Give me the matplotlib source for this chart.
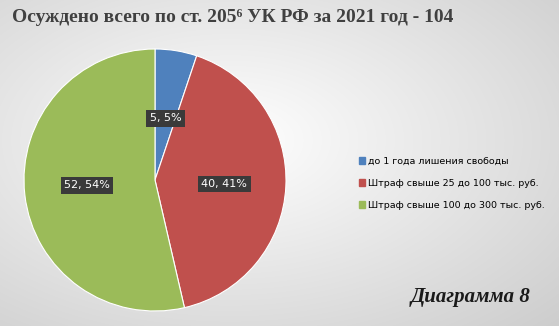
import matplotlib
matplotlib.use('Agg')
import matplotlib.pyplot as plt
import numpy as np

categories = ['до 1 года лишения свободы',
              'Штраф свыше 25 до 100 тыс. руб.',
              'Штраф свыше 100 до 300 тыс. руб.']
counts = [5, 40, 52]
percents = [5, 41, 54]
colors = ['#4F81BD', '#C0504D', '#9BBB59']

W, H = 559, 326
fig = plt.figure(figsize=(W / 100, H / 100), dpi=100)

# фон с градиентом
bg = fig.add_axes([0, 0, 1, 1])
yy, xx = np.mgrid[0:H, 0:W]
d = np.sqrt(((xx - 230) / W) ** 2 + ((yy - 140) / H) ** 2)
shade = np.clip(1.0 - 0.24 * d, 0.76, 1.0)
img = np.dstack([shade, shade, shade])
bg.imshow(img, extent=(0, W, H, 0), aspect='auto')
bg.set_xlim(0, W)
bg.set_ylim(H, 0)
bg.axis('off')

# круговая диаграмма
cx, cy, r = 155, 180, 131
ax = fig.add_axes([(cx - r) / W, 1 - (cy + r) / H, 2 * r / W, 2 * r / H])
wedges, _ = ax.pie(counts, colors=colors, startangle=90, counterclock=False,
                   wedgeprops=dict(linewidth=0.8, edgecolor='white'))
ax.set_xlim(-1, 1)
ax.set_ylim(-1, 1)
ax.set_aspect('auto')

label_pos = [(0.08, 0.47), (0.53, -0.03), (-0.52, -0.04)]
for (x, y), c, p in zip(label_pos, counts, percents):
    ax.text(x, y, f'{c}, {p}%', ha='center', va='center', color='white',
            fontsize=8, family='DejaVu Sans',
            bbox=dict(boxstyle='square,pad=0.3', facecolor='#3a3a3a', edgecolor='none'))

fig.text(12 / W, 1 - 18 / H, 'Осуждено всего по ст. 205⁶ УК РФ за 2021 год - 104',
         ha='left', va='center', fontsize=14, fontweight='bold',
         family=['Liberation Serif', 'DejaVu Serif'], color='#404040')

handles = [plt.Rectangle((0, 0), 1, 1, color=c) for c in colors]
fig.legend(handles, categories, loc='upper left', bbox_to_anchor=(350 / W, 1 - 148 / H),
           frameon=False, fontsize=6.8, handlelength=0.7, handleheight=0.7,
           handletextpad=0.3, labelspacing=1.4)

fig.text(530 / W, 1 - 297 / H, 'Диаграмма 8', ha='right', va='center',
         fontsize=15, fontweight='bold', fontstyle='italic',
         family='Liberation Serif', color='#1a1a1a')

plt.savefig('out.png', dpi=100)
